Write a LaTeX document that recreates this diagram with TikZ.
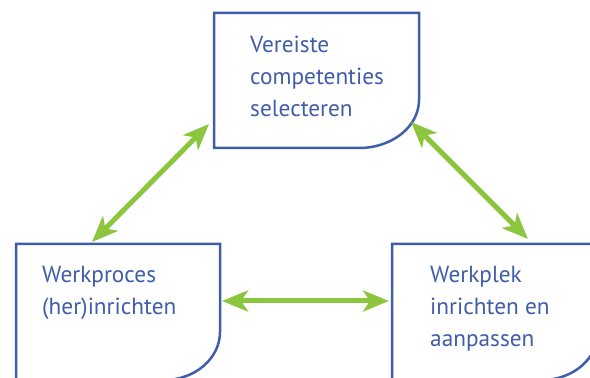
\documentclass[tikz,border=0pt]{standalone}
\usepackage{fontspec}
\setmainfont{PT Sans}
\usetikzlibrary{arrows.meta}
\definecolor{boxblue}{HTML}{3F5DA8}
\definecolor{arrowgreen}{HTML}{8CC63F}
\begin{document}
\begin{tikzpicture}[x=1pt,y=1pt,
  boxline/.style={draw=boxblue,line width=2.5pt},
  label/.style={anchor=base west,inner sep=0pt,text=boxblue,font=\fontsize{23.3}{31}\selectfont,align=left},
  dblarrow/.style={draw=arrowgreen,line width=5pt,{Stealth[length=26pt,width=21pt,inset=7pt]}-{Stealth[length=26pt,width=21pt,inset=7pt]}}]
\useasboundingbox (0,0) rectangle (590,378);
% top box
\draw[boxline] (214,365) -- (419,365) -- (419,278) arc[start angle=0,end angle=-90,x radius=60,y radius=48] -- (214,230) -- cycle;
% left box
\draw[boxline] (16,134) -- (220,134) -- (220,46) arc[start angle=0,end angle=-90,x radius=56,y radius=48] -- (16,-2) -- cycle;
% right box
\draw[boxline] (392,134) -- (598,134) -- (598,46) arc[start angle=0,end angle=-90,x radius=56,y radius=48] -- (392,-2) -- cycle;
% texts
\node[label] (t1) at (250,325) {Vereiste};
\node[label] (t2) at (250,293) {competenties};
\node[label] (t3) at (250,261) {selecteren};
\node[label] (l1) at (42,95) {Werkproces};
\node[label] (l2) at (42,63) {(her)inrichten};
\node[label] (r1) at (430,95) {Werkplek};
\node[label] (r2) at (430,63) {inrichten en};
\node[label] (r3) at (430,31) {aanpassen};
% arrow ends
\coordinate (a1s) at (209,254);
\coordinate (a1e) at (92,136);
\coordinate (a2s) at (411,256);
\coordinate (a2e) at (528,139);
\coordinate (a3s) at (222,77);
\coordinate (a3e) at (389,77);
\draw[dblarrow] (a1s) -- (a1e);
\draw[dblarrow] (a2s) -- (a2e);
\draw[dblarrow] (a3s) -- (a3e);
\end{tikzpicture}
\end{document}
